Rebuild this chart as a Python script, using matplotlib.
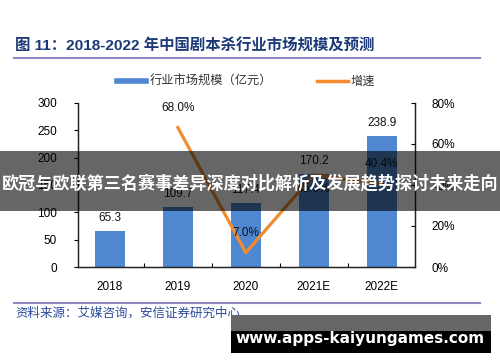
import matplotlib
matplotlib.use("Agg")
import matplotlib.pyplot as plt
from matplotlib.patches import Rectangle
from matplotlib.lines import Line2D

plt.rcParams['font.family'] = ['Liberation Sans', 'Noto Sans CJK SC', 'DejaVu Sans']

years = ["2018", "2019", "2020", "2021E", "2022E"]
market = [65.3, 109.7, 117.4, 170.2, 238.9]
growth_years = ["2019", "2020", "2021E", "2022E"]
growth = [68.0, 7.0, 45.0, 40.4]
left_ticks = [0, 50, 100, 150, 200, 250, 300]
right_ticks = [0, 20, 40, 60, 80]

W, H = 500, 362
fig = plt.figure(figsize=(5.0, 3.62), dpi=100)

def fx(px):
    return px / W

def fy(py):
    return 1 - py / H

ax = fig.add_axes([fx(78), fy(267), fx(415) - fx(78), fy(103) - fy(267)])
ax2 = ax.twinx()

bar_color = "#4f88d0"
line_color = "#f28c2e"
x = list(range(len(years)))
bars = ax.bar(x, market, width=0.44, color=bar_color, zorder=2)
for xi, v in zip(x, market):
    ax.annotate(f"{v:.1f}", (xi, v), xytext=(0, 5), textcoords="offset points",
                ha="center", va="bottom", fontsize=8.5, color="#111111")

gx = [years.index(g) for g in growth_years]
gy = [g / 100 for g in growth]
ax2.plot(gx, gy, color=line_color, lw=2.3, zorder=3)
for xi, v in zip(gx, growth):
    if abs(v - 45.0) < 0.01:
        ax2.annotate(f"{v:.1f}%", (xi, v / 100), xytext=(0, -6), textcoords="offset points",
                     ha="center", va="top", fontsize=8.5, color="#111111")
    else:
        ax2.annotate(f"{v:.1f}%", (xi, v / 100), xytext=(0, 10), textcoords="offset points",
                     ha="center", va="bottom", fontsize=8.5, color="#111111")

ax.set_xlim(-0.47, 4.49)
ax.set_ylim(0, 300)
ax2.set_ylim(0, 0.8)
ax.set_yticks(left_ticks)
ax.set_yticklabels([str(t) for t in left_ticks], fontsize=8.5)
ax2.set_yticks([t / 100 for t in right_ticks])
ax2.set_yticklabels([f"{t}%" for t in right_ticks], fontsize=8.5)
ax.set_xticks(x)
ax.set_xticklabels(years, fontsize=8.5)
ax.tick_params(axis="x", length=0, pad=10)
ax.set_xticks([i + 0.5 for i in range(len(years) - 1)], minor=True)
ax.tick_params(axis="x", which="minor", direction="in", length=3, width=0.8)
ax.tick_params(axis="y", direction="out", length=3, width=0.8, pad=12)
ax2.tick_params(axis="y", direction="in", length=3, width=0.8, pad=12)
for a in (ax, ax2):
    a.spines["top"].set_visible(False)
    for s in ("left", "right", "bottom"):
        a.spines[s].set_linewidth(0.9)
        a.spines[s].set_color("#222222")

# Title
fig.text(fx(15), fy(46), "图 11：2018-2022 年中国剧本杀行业市场规模及预测",
         fontsize=11.1, fontweight="bold", color="#1c3a78", va="center", ha="left",
         family=["Liberation Sans", "Noto Sans CJK SC"])
fig.add_artist(Line2D([fx(14), fx(480)], [fy(58), fy(58)], color="#8c88c4", lw=1.5))

# Legend
fig.add_artist(Line2D([fx(117), fx(146)], [fy(81), fy(81)], color=bar_color, lw=4))
fig.text(fx(150), fy(81), "行业市场规模（亿元）", fontsize=8.8, color="#333333",
         va="center", ha="left", family=["Noto Sans CJK SC"], style="italic")
fig.add_artist(Line2D([fx(317), fx(348)], [fy(81), fy(81)], color=line_color, lw=2.5))
fig.text(fx(351), fy(81), "增速", fontsize=8.8, color="#333333",
         va="center", ha="left", family=["Noto Sans CJK SC"])

# Source
fig.add_artist(Line2D([fx(14), fx(480)], [fy(303), fy(303)], color="#8c88c4", lw=1.5))
fig.text(fx(15), fy(313), "资料来源：艾媒咨询，安信证券研究中心", fontsize=9, color="#2b4a9a",
         va="center", ha="left", family=["Noto Sans CJK SC"], style="italic")

# Overlay banner
fig.add_artist(Rectangle((0, fy(211)), 1, fy(151) - fy(211), transform=fig.transFigure,
                         facecolor="black", alpha=0.6, edgecolor="none", zorder=10))
fig.text(0.5, fy(183), "欧冠与欧联第三名赛事差异深度对比解析及发展趋势探讨未来走向",
         fontsize=12.3, fontweight="bold", color="white", ha="center", va="center",
         family=["Noto Sans CJK SC"], zorder=11)

# Bottom-right box
fig.add_artist(Rectangle((fx(231), fy(331)), fx(491) - fx(231), fy(315) - fy(331),
                         transform=fig.transFigure, facecolor="#666666", edgecolor="none", zorder=10))
fig.add_artist(Rectangle((fx(231), fy(353)), fx(491) - fx(231), fy(331) - fy(353),
                         transform=fig.transFigure, facecolor="black", edgecolor="none", zorder=10))
fig.text(fx(360), fy(338), "www.apps-kaiyungames.com", fontsize=11, fontweight="bold",
         color="white", ha="center", va="center", family=["DejaVu Sans"], zorder=11)

fig.savefig("out.png", dpi=100)
